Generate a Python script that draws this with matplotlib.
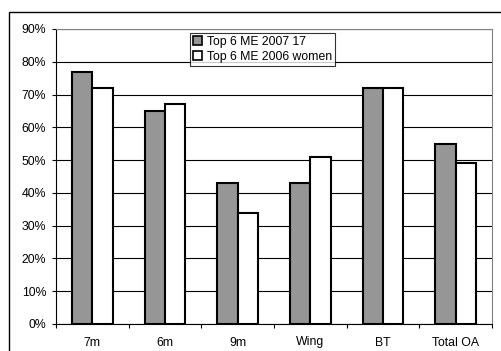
import numpy as np
import matplotlib.pyplot as plt
from matplotlib.patches import Rectangle
from matplotlib.ticker import MultipleLocator, FuncFormatter

plt.rcParams['font.family'] = ['Liberation Sans', 'DejaVu Sans']

categories = ['7m', '6m', '9m', 'Wing', 'BT', 'Total OA']
series_2007 = [77, 65, 43, 43, 72, 55]
series_2006 = [72, 67, 34, 51, 72, 49]
labels = ['Top 6 ME 2007 17', 'Top 6 ME 2006 women']

W, H = 502, 351
fig = plt.figure(figsize=(W / 100, H / 100), dpi=100)

# chart area frame (only top/left edges fall inside the canvas)
fig.patches.append(Rectangle((9 / W, -0.1), 1.2, (H - 12) / H + 0.1,
                             transform=fig.transFigure, fill=False,
                             edgecolor='black', linewidth=1.0))

ax = fig.add_axes([56 / W, (H - 324) / H, (492 - 56) / W, (324 - 29) / H])

x = np.arange(len(categories))
bw = 0.28
ax.bar(x - bw / 2, series_2007, bw, color='#969696', edgecolor='black',
       linewidth=1.5, label=labels[0], zorder=3)
ax.bar(x + bw / 2, series_2006, bw, color='white', edgecolor='black',
       linewidth=1.5, label=labels[1], zorder=3)

ax.set_xlim(-0.5, len(categories) - 0.5)
ax.set_ylim(0, 90)
ax.yaxis.set_major_locator(MultipleLocator(10))
ax.yaxis.set_major_formatter(FuncFormatter(lambda v, p: f'{v:.0f}%'))
ax.grid(axis='y', color='black', linewidth=0.8, zorder=0)

fs = 8.8
ax.set_xticks(x)
ax.set_xticklabels(categories)
ax.set_xticks(np.arange(len(categories) + 1) - 0.5, minor=True)
ax.tick_params(axis='x', which='major', length=0, pad=9, labelsize=fs)
ax.tick_params(axis='x', which='minor', length=3, direction='out', width=0.8)
ax.tick_params(axis='y', length=3, width=0.8, labelsize=fs, pad=4)

for side in ['top', 'right']:
    ax.spines[side].set_color('#808080')
    ax.spines[side].set_linewidth(0.8)
ax.spines['left'].set_linewidth(0.8)
ax.spines['bottom'].set_linewidth(0.8)

leg = ax.legend(loc='upper left', bbox_to_anchor=((190 - 56) / (492 - 56), 1 - (33 - 29) / (324 - 29)),
                fontsize=fs, frameon=True, fancybox=False, edgecolor='black',
                borderpad=0.25, labelspacing=0.25, handlelength=0.75, handleheight=0.75,
                handletextpad=0.4, borderaxespad=0)
leg.get_frame().set_linewidth(0.8)
leg.set_zorder(5)
for h in leg.legend_handles:
    h.set_linewidth(1.2)

fig.savefig('out.png', dpi=100)
